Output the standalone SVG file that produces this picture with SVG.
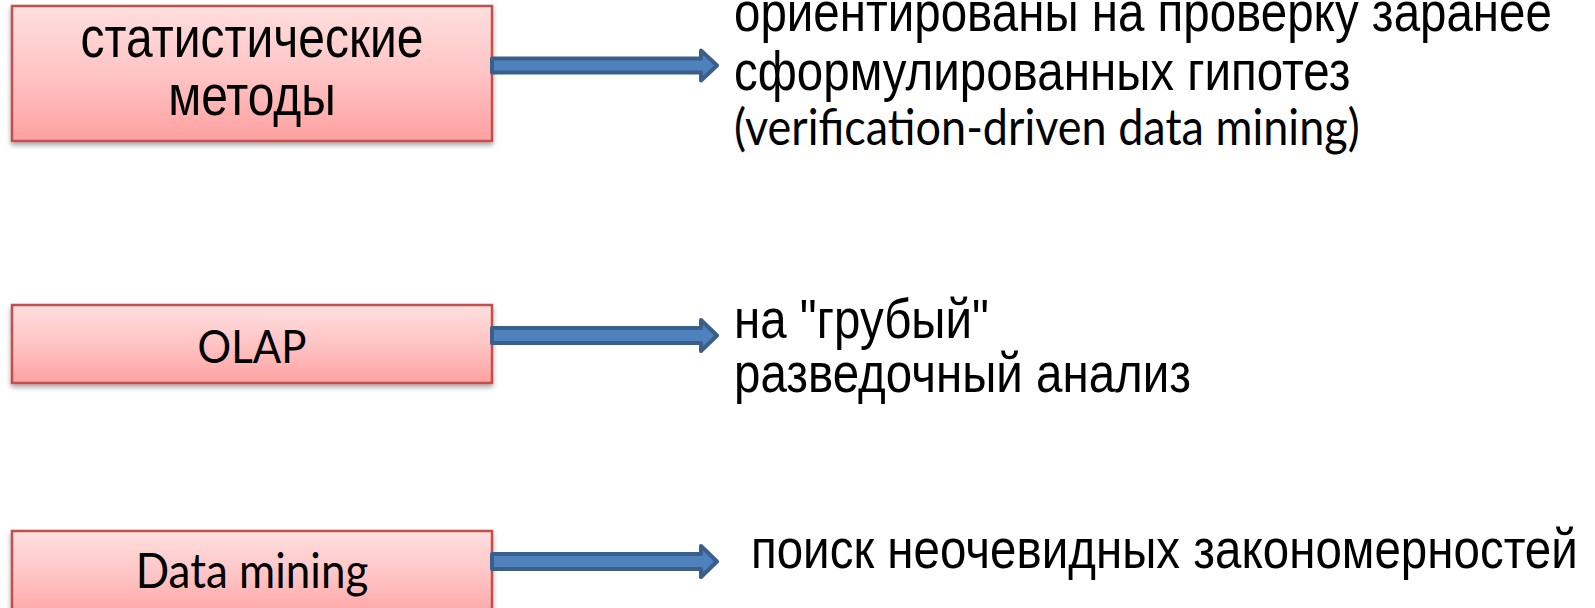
<svg xmlns="http://www.w3.org/2000/svg" width="1595" height="608" viewBox="0 0 1595 608">
  <style>
    .box { fill: url(#boxFill); stroke: #C0504D; stroke-width: 2.5; filter: url(#shadow); }
    .lbl { font-family: "Liberation Sans", Arial, sans-serif; font-size: 47.5px; fill: #000; }
    .lblc { font-family: Lato, "Open Sans", sans-serif; font-size: 45px; fill: #000; }
    .arrow { fill: #4F81BD; stroke: #3A5F8B; stroke-width: 4; stroke-linejoin: round; }
  </style>
  <defs>
    <linearGradient id="boxFill" x1="0" y1="0" x2="0" y2="1">
      <stop offset="0" stop-color="#FFDFDF"/>
      <stop offset="0.5" stop-color="#FFC4C4"/>
      <stop offset="1" stop-color="#FFA1A1"/>
    </linearGradient>
    <filter id="shadow" x="-5%" y="-10%" width="110%" height="130%">
      <feDropShadow dx="0" dy="3" stdDeviation="2.5" flood-color="#000" flood-opacity="0.35"/>
    </filter>
  </defs>

  <!-- nodes (labels are drawn slightly stretched vertically) -->
  <g id="node-stat">
    <rect class="box" x="12" y="6" width="480" height="135"/>
    <text class="lbl" style="font-size:48px" transform="matrix(1,0,0,1.18,252,57)" text-anchor="middle">статистические</text>
    <text class="lbl" style="font-size:48px" transform="matrix(1,0,0,1.18,252,115)" text-anchor="middle">методы</text>
  </g>
  <g id="node-olap">
    <rect class="box" x="12" y="305" width="480" height="78"/>
    <text class="lblc" style="font-size:42px" transform="matrix(1,0,0,1.12,252,363)" text-anchor="middle">OLAP</text>
  </g>
  <g id="node-dm">
    <rect class="box" x="12" y="531" width="480" height="90"/>
    <text class="lblc" style="font-size:44px" transform="matrix(1,0,0,1.12,252,588)" text-anchor="middle">Data mining</text>
  </g>

  <g id="desc-stat">
    <text class="lbl" transform="matrix(1,0,0,1.18,734,31)">ориентированы на проверку заранее</text>
    <text class="lbl" transform="matrix(1,0,0,1.18,734,89.5)">сформулированных гипотез</text>
    <text class="lblc" transform="matrix(1,0,0,1.12,734,145)">(verification-driven data mining)</text>
  </g>
  <g id="desc-olap">
    <text class="lbl" transform="matrix(1,0,0,1.18,734,338)">на "грубый"</text>
    <text class="lbl" transform="matrix(1,0,0,1.18,734,391.5)">разведочный анализ</text>
  </g>
  <g id="desc-dm">
    <text class="lbl" transform="matrix(1,0,0,1.18,751,568)">поиск неочевидных закономерностей</text>
  </g>

  <!-- connectors: block arrows -->
  <g id="connectors">
    <path class="arrow" d="M492,58.5 H701 V50.5 L717,65.5 L701,80.5 V72.5 H492 Z"/>
    <path class="arrow" d="M492,328 H701 V320 L717,335.5 L701,351 V343 H492 Z"/>
    <path class="arrow" d="M492,554 H701 V546 L717,561.5 L701,577 V569 H492 Z"/>
  </g>
</svg>
